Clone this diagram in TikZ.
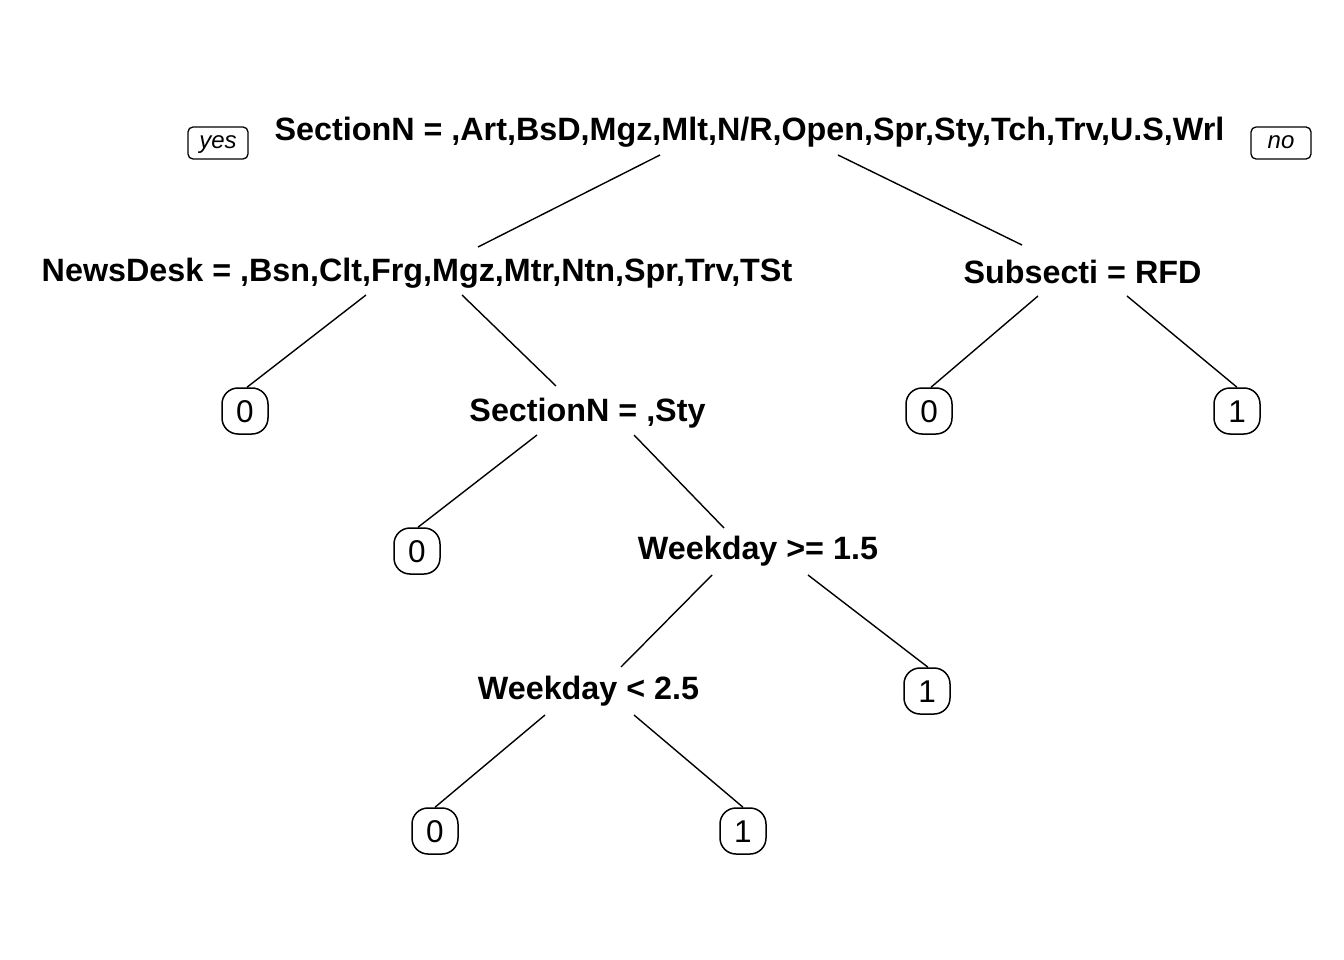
\documentclass[tikz,border=0pt]{standalone}
\usepackage{fontspec}
\setmainfont{Liberation Sans}
\begin{document}
\begin{tikzpicture}[x=1pt,y=-1pt,
  split/.style={anchor=base,inner sep=0pt,font=\fontsize{32.3}{38}\selectfont\bfseries},
  leaf/.style={draw,line width=1.5pt,rounded corners=16pt,minimum width=46pt,minimum height=46pt,inner sep=0pt,
    text height=22.5pt,text depth=0pt,font=\fontsize{31.5}{36}\selectfont},
  yn/.style={draw,line width=1.3pt,rounded corners=5pt,minimum width=60pt,minimum height=32pt,inner sep=0pt,
    text height=12pt,text depth=0pt,font=\fontsize{24}{28}\selectfont\itshape},
  edge/.style={line width=1.4pt}]
\useasboundingbox[fill=white] (0,0) rectangle (1344,960);
\node[split] (root) at (749.5,141) {SectionN = ,Art,BsD,Mgz,Mlt,N/R,Open,Spr,Sty,Tch,Trv,U.S,Wrl};
\node[yn] (yes) at (218,143) {yes};
\node[yn] (no) at (1281,143) {no};
\node[split] (nd) at (417,281) {NewsDesk = ,Bsn,Clt,Frg,Mgz,Mtr,Ntn,Spr,Trv,TSt};
\node[split] (sub) at (1082.5,283) {Subsecti = RFD};
\node[split] (sty) at (587.5,421) {SectionN = ,Sty};
\node[split] (wk1) at (758,559) {Weekday >= 1.5};
\node[split] (wk2) at (588.5,699) {Weekday < 2.5};
\node[leaf] (l1) at (245,411) {0};
\node[leaf] (l2) at (929,411) {0};
\node[leaf] (l3) at (1237,411) {1};
\node[leaf] (l4) at (417,551) {0};
\node[leaf] (l5) at (927,691) {1};
\node[leaf] (l6) at (435,831) {0};
\node[leaf] (l7) at (743,831) {1};
\draw[edge] ([shift={(-89.5,14)}]root.base) -- ([shift={(61,-34)}]nd.base);
\draw[edge] ([shift={(88.5,14)}]root.base) -- ([shift={(-60.5,-38)}]sub.base);
\draw[edge] ([shift={(-51,14)}]nd.base) -- ([xshift=2pt]l1.north);
\draw[edge] ([shift={(45,14)}]nd.base) -- ([shift={(-31.5,-35)}]sty.base);
\draw[edge] ([shift={(-44.5,13)}]sub.base) -- ([xshift=2pt]l2.north);
\draw[edge] ([shift={(44.5,13)}]sub.base) -- (l3.north);
\draw[edge] ([shift={(-50.5,14)}]sty.base) -- ([xshift=1pt]l4.north);
\draw[edge] ([shift={(46.5,14)}]sty.base) -- ([shift={(-34,-31)}]wk1.base);
\draw[edge] ([shift={(-46,16)}]wk1.base) -- ([shift={(32.5,-32)}]wk2.base);
\draw[edge] ([shift={(50,16)}]wk1.base) -- ([xshift=1pt]l5.north);
\draw[edge] ([shift={(-43.5,16)}]wk2.base) -- (l6.north);
\draw[edge] ([shift={(45.5,16)}]wk2.base) -- (l7.north);
\end{tikzpicture}
\end{document}
